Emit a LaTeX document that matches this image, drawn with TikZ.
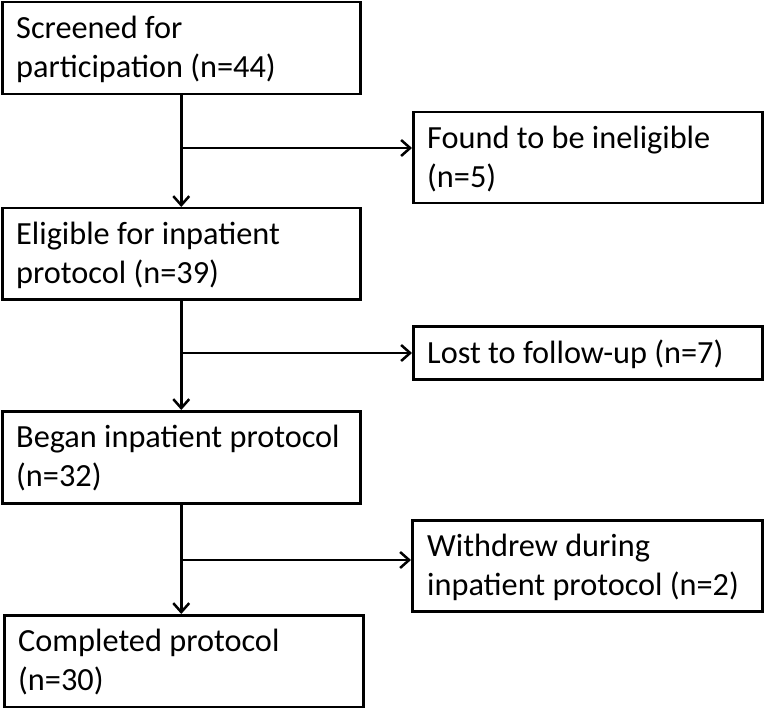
\documentclass[tikz,border=0pt]{standalone}
\usepackage{fontspec}
\setmainfont{Carlito}
\usetikzlibrary{arrows.meta,calc}
\tikzset{
  box/.style={draw=black, line width=2.5pt, anchor=north west, inner sep=0pt, minimum width=#1},
  txt/.style={anchor=north west, inner sep=0pt, align=left, font=\fontsize{32.3}{39.5}\selectfont},
  conn/.style={line width=2.5pt, -{Straight Barb[length=9pt,width=16pt,line width=2.5pt]}},
  plain/.style={line width=2.5pt}
}
\newcommand{\topstrut}{\rule{0pt}{37pt}}
\begin{document}
\begin{tikzpicture}[x=1pt,y=-1pt]
\useasboundingbox (0,0) rectangle (770,708);
% boxes
\node[box=358pt, minimum height=92pt] (b1) at (1,1) {};
\node[box=349pt, minimum height=91pt] (b2) at (412,111) {};
\node[box=358pt, minimum height=91pt] (b3) at (1,207) {};
\node[box=349pt, minimum height=53pt] (b4) at (412,325) {};
\node[box=358pt, minimum height=92pt] (b5) at (1,410) {};
\node[box=350pt, minimum height=91pt] (b6) at (411,519) {};
\node[box=359pt, minimum height=92pt] (b7) at (3,614) {};
% texts
\node[txt] (t1) at ($(b1.north west)+(15,0)$) {\topstrut Screened for\\participation (n=44)};
\node[txt] (t2) at ($(b2.north west)+(15,0)$) {\topstrut Found to be ineligible\\(n=5)};
\node[txt] (t3) at ($(b3.north west)+(15,0)$) {\topstrut Eligible for inpatient\\protocol (n=39)};
\node[txt] (t4) at ($(b4.north west)+(15,1)$) {\topstrut Lost to follow-up (n=7)};
\node[txt] (t5) at ($(b5.north west)+(15,0)$) {\topstrut Began inpatient protocol\\(n=32)};
\node[txt] (t6) at ($(b6.north west)+(16,0)$) {\topstrut Withdrew during\\inpatient protocol (n=2)};
\node[txt] (t7) at ($(b7.north west)+(15,0)$) {\topstrut Completed protocol\\(n=30)};
% branch points
\coordinate (c1) at (180,148);
\coordinate (c2) at (180,353);
\coordinate (c3) at (180,560);
% connectors
\draw[conn] (b1.south) -- (b1.south |- b3.north);
\draw[conn] (b3.south) -- (b3.south |- b5.north);
\draw[conn] (b5.south) -- (b5.south |- b7.north);
\draw[conn] (c1) -- (c1 -| b2.west);
\draw[conn] (c2) -- (c2 -| b4.west);
\draw[conn] (c3) -- (c3 -| b6.west);
\end{tikzpicture}
\end{document}
